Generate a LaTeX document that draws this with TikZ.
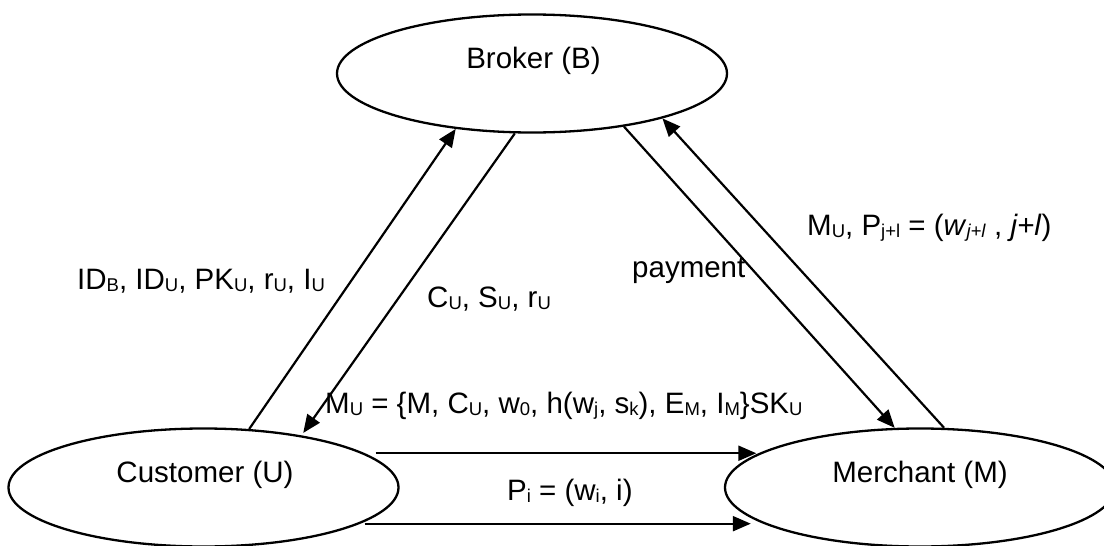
\documentclass[tikz,border=0pt]{standalone}
\usepackage{fontspec}
\setmainfont{Liberation Sans}
\usetikzlibrary{shapes.geometric,arrows.meta}
\newcommand\sbs[1]{\raisebox{-2.5pt}{\fontsize{18.5}{18.5}\selectfont #1}}
\begin{document}
\begin{tikzpicture}[x=1pt,y=-1pt,
  ent/.style={draw,ellipse,line width=2.3pt,minimum width=390pt,minimum height=118pt,inner sep=0pt},
  txt/.style={inner sep=0pt,font=\fontsize{29.5}{34}\selectfont},
  arr/.style={line width=2.2pt,-{Triangle[length=18pt,width=15pt]}}]
\useasboundingbox (0,0) rectangle (1104,546);
\fill[white] (0,0) rectangle (1104,546);
\node[ent] (B) at (532,73.5) {};
\node[ent] (U) at (203.5,487.5) {};
\node[ent] (M) at (920,487.5) {};
\node[txt,anchor=base] (Bt) at (533.5,68) {Broker (B)};
\node[txt,anchor=base] (Ut) at (205,482) {Customer (U)};
\node[txt,anchor=base] (Mt) at (920,482) {Merchant (M)};
\draw[arr] (U.52.2) -- (B.216.8);
\draw[arr,shorten >=3pt] (B.254.8) -- (U.28);
\draw[arr] (B.330.8) -- (M.113.1);
\draw[arr] (M.68.6) -- (B.341.6);
\draw[arr,shorten <=11pt,shorten >=7pt] (U.12.8) -- (U.12.8 -| M.167.2);
\draw[arr,shorten <=4.5pt,shorten >=8pt] (U.347.4) -- (U.347.4 -| M.192.6);
\node[txt,anchor=base west] (l1) at (77,289) {ID\sbs{B}, ID\sbs{U}, PK\sbs{U}, r\sbs{U}, I\sbs{U}};
\node[txt,anchor=base west] (l2) at (427,307) {C\sbs{U}, S\sbs{U}, r\sbs{U}};
\node[txt,anchor=base west] (l3) at (325,413) {M\sbs{U} = \{M, C\sbs{U}, w\sbs{0}, h(w\sbs{j}, s\sbs{k}), E\sbs{M}, I\sbs{M}\}SK\sbs{U}};
\node[txt,anchor=base west] (l4) at (507,500) {P\sbs{i} = (w\sbs{i}, i)};
\node[txt,anchor=base west] (l5) at (632,277) {payment};
\node[txt,anchor=base west] (l6) at (807,235) {M\sbs{U}, P\sbs{j+l} = (\textit{w}\sbs{\textit{j+l}} , \textit{j+l})};
\end{tikzpicture}
\end{document}
